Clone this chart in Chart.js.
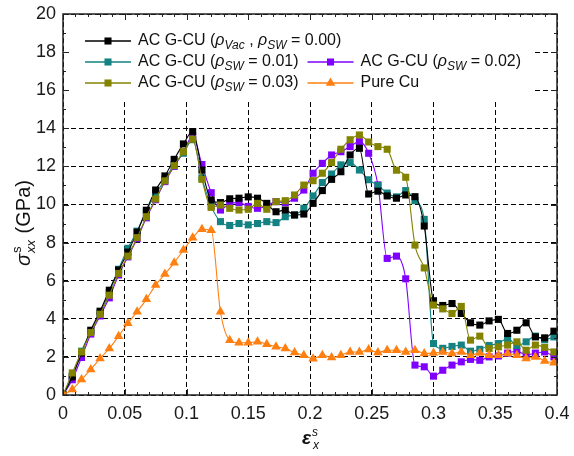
<!DOCTYPE html>
<html>
<head>
<meta charset="utf-8">
<script src="https://cdn.jsdelivr.net/npm/chart.js@4/dist/chart.umd.min.js"></script>
<style>
  html, body { margin: 0; padding: 0; background: #fff; }
  #wrap { width: 574px; height: 456px; }
</style>
</head>
<body>
<div id="wrap"><canvas id="chart" width="574" height="456"></canvas></div>
<script>
// strain values (x axis)
const strain = [0, 0.0075, 0.015, 0.0225, 0.03, 0.0375, 0.045, 0.0525, 0.06, 0.0675,
  0.075, 0.0825, 0.09, 0.0975, 0.105, 0.1125, 0.12, 0.1275, 0.135, 0.1425,
  0.15, 0.1575, 0.165, 0.1725, 0.18, 0.1875, 0.195, 0.2025, 0.21, 0.2175,
  0.225, 0.2325, 0.24, 0.2475, 0.255, 0.2625, 0.27, 0.2775, 0.285, 0.2925,
  0.3, 0.3075, 0.315, 0.3225, 0.33, 0.3375, 0.345, 0.3525, 0.36, 0.3675,
  0.375, 0.3825, 0.39, 0.3975];

// stress (GPa) per sample
const acSw000 = [0, 0.95, 2.2, 3.4, 4.4, 5.5, 6.56, 7.5, 8.55, 9.7,
  10.76, 11.5, 12.37, 13.18, 13.83, 11.81, 10.24, 10.1, 10.3, 10.33,
  10.4, 10.33, 10.06, 9.62, 9.71, 9.45, 9.5, 10.06, 10.73, 11.32,
  11.72, 12.6, 12.95, 10.55, 10.7, 10.45, 10.33, 10.5, 10.41, 8.87,
  4.95, 4.7, 4.8, 4.28, 3.79, 3.67, 3.89, 3.97, 3.23, 3.4,
  3.79, 3.05, 3.0, 3.35];
const acSw001 = [0, 1.0, 2.3, 3.35, 4.3, 5.4, 6.6, 7.7, 8.6, 9.67,
  10.55, 11.3, 12.1, 12.69, 13.4, 11.4, 9.9, 9.1, 8.9, 9.0,
  8.93, 9.0, 9.1, 9.05, 9.36, 9.45, 9.8, 10.45, 11.15, 11.6,
  12.08, 12.2, 11.81, 11.3, 11.0, 10.6, 10.4, 10.73, 10.2, 9.22,
  2.7, 2.45, 2.55, 2.62, 2.3, 2.4, 2.6, 2.7, 2.97, 2.6,
  2.79, 3.09, 2.9, 3.05];
const acSw002 = [0, 0.8, 1.97, 3.2, 4.15, 5.1, 6.3, 7.25, 8.2, 9.3,
  10.25, 11.2, 12.0, 12.75, 13.6, 12.1, 10.62, 9.71, 10.06, 10.1,
  9.9, 9.8, 9.92, 10.15, 10.1, 10.33, 10.76, 11.64, 12.16, 12.6,
  12.77, 13.04, 13.3, 12.69, 11.03, 7.17, 7.29, 6.1, 1.57, 1.48,
  0.99, 1.3, 1.57, 1.74, 1.87, 1.82, 2.0, 2.05, 2.2, 2.3,
  2.1, 2.2, 2.26, 2.0];
const acSw003 = [0, 1.16, 2.26, 3.28, 4.24, 5.24, 6.38, 7.29, 8.26, 9.36,
  10.29, 11.24, 12.04, 12.77, 13.43, 11.32, 9.85, 9.97, 9.8, 9.71,
  9.75, 10.06, 9.75, 10.15, 10.2, 10.5, 11.02, 11.25, 11.64, 12.2,
  12.9, 13.4, 13.65, 13.28, 13.04, 12.9, 11.8, 11.43, 7.87, 6.67,
  4.72, 4.52, 4.28, 4.65, 2.88, 3.09, 2.44, 2.53, 2.62, 2.79,
  2.35, 2.62, 2.5, 2.26];
const pureCu = [0, 0.29, 0.81, 1.34, 1.92, 2.44, 3.09, 3.76, 4.37, 5.02,
  5.77, 6.35, 6.94, 7.61, 8.25, 8.7, 8.65, 4.37, 2.88, 2.74,
  2.74, 2.79, 2.67, 2.53, 2.44, 2.23, 2.09, 1.9, 2.09, 1.97,
  2.09, 2.26, 2.26, 2.39, 2.23, 2.35, 2.35, 2.26, 2.35, 2.18,
  2.2, 2.26, 2.18, 2.26, 2.09, 2.2, 2.09, 2.09, 2.18, 2.09,
  1.92, 2.0, 1.79, 1.69];

const seriesNames = ['AC G-CU (ρVac , ρSW = 0.00)', 'AC G-CU (ρSW = 0.01)', 'AC G-CU (ρSW = 0.02)',
  'AC G-CU (ρSW = 0.03)', 'Pure Cu'];
const seriesColors = ['#000000', '#138282', '#8000ff', '#838300', '#ff7f10'];

// legend text pieces: [text, kind]  kind: n normal, i italic, s subscript
const legendParts = [
  [['AC G-CU (', 'n'], ['ρ', 'i'], ['Vac', 's'], [' , ', 'n'], ['ρ', 'i'], ['SW', 's'], [' = 0.00)', 'n']],
  [['AC G-CU (', 'n'], ['ρ', 'i'], ['SW', 's'], [' = 0.01)', 'n']],
  [['AC G-CU (', 'n'], ['ρ', 'i'], ['SW', 's'], [' = 0.02)', 'n']],
  [['AC G-CU (', 'n'], ['ρ', 'i'], ['SW', 's'], [' = 0.03)', 'n']],
  [['Pure Cu', 'n']]
];
const legendRows = [[0], [1, 2], [3, 4]];

const FONT = '"Liberation Sans", Arial, sans-serif';

function makeSet(i, values, style, radius, order) {
  return {
    label: seriesNames[i],
    data: values.map((v, k) => ({ x: strain[k], y: v })),
    borderColor: seriesColors[i],
    backgroundColor: seriesColors[i],
    pointBackgroundColor: seriesColors[i],
    pointBorderColor: seriesColors[i],
    pointStyle: style,
    pointRadius: radius,
    pointBorderWidth: 0,
    borderWidth: 1.1,
    cubicInterpolationMode: 'monotone',
    order: order
  };
}

function drawRich(ctx, parts, x, y, size) {
  let cx = x;
  for (const [t, kind] of parts) {
    if (kind === 's') {
      ctx.font = `italic ${Math.round(size * 0.72)}px ${FONT}`;
      ctx.fillText(t, cx, y + size * 0.28);
    } else {
      ctx.font = (kind === 'i' ? 'italic ' : '') + `${size}px ${FONT}`;
      ctx.fillText(t, cx, y);
    }
    cx += ctx.measureText(t).width;
  }
  return cx - x;
}

const decor = {
  id: 'decor',
  beforeDatasetsDraw(chart) {
    const ctx = chart.ctx;
    const a = chart.chartArea;
    ctx.save();
    ctx.fillStyle = '#fff';
    ctx.fillRect(a.left + 1, a.top + 1, 533 - a.left, 100 - a.top);
    ctx.restore();
  },
  afterDraw(chart) {
    const ctx = chart.ctx;
    const a = chart.chartArea;
    const xs = chart.scales.x, ys = chart.scales.y;
    ctx.save();

    // inward ticks on all four sides
    ctx.strokeStyle = '#222';
    ctx.lineWidth = 1;
    ctx.beginPath();
    for (let k = 0; k <= 40; k++) {
      const px = Math.round(xs.getPixelForValue(k * 0.01)) + 0.5;
      const len = k % 5 === 0 ? 6 : 3;
      ctx.moveTo(px, a.bottom); ctx.lineTo(px, a.bottom - len);
      ctx.moveTo(px, a.top); ctx.lineTo(px, a.top + len);
    }
    for (let k = 0; k <= 20; k++) {
      const py = Math.round(ys.getPixelForValue(k)) + 0.5;
      const len = k % 2 === 0 ? 6 : 3;
      ctx.moveTo(a.left, py); ctx.lineTo(a.left + len, py);
      ctx.moveTo(a.right, py); ctx.lineTo(a.right - len, py);
    }
    ctx.stroke();

    // frame
    ctx.lineWidth = 1.5;
    ctx.strokeStyle = '#222';
    ctx.strokeRect(a.left, a.top, a.right - a.left, a.bottom - a.top);

    // legend
    ctx.textBaseline = 'middle';
    ctx.fillStyle = '#111';
    const rowY = [41, 62, 83];
    legendRows.forEach((row, r) => {
      let x = 85;
      row.forEach((idx) => {
        const ds = chart.data.datasets[idx];
        const y = rowY[r];
        ctx.strokeStyle = ds.borderColor;
        ctx.lineWidth = 1.3;
        ctx.beginPath();
        ctx.moveTo(x, y); ctx.lineTo(x + 46, y);
        ctx.stroke();
        ctx.fillStyle = ds.backgroundColor;
        Chart.helpers.drawPoint(ctx, { pointStyle: ds.pointStyle, radius: ds.pointRadius, rotation: 0, borderWidth: 0 }, x + 23, y);
        ctx.fillStyle = '#111';
        const w = drawRich(ctx, legendParts[idx], x + 53, y, 16);
        x = x + 53 + w + 9;
      });
    });

    // x axis title: epsilon^s_x
    ctx.fillStyle = '#111';
    ctx.textBaseline = 'alphabetic';
    ctx.font = `italic bold 19px ${FONT}`;
    let tx = 302;
    ctx.fillText('ε', tx, 444);
    tx += ctx.measureText('ε').width + 1;
    ctx.font = `italic 12px ${FONT}`;
    ctx.fillText('s', tx, 436);
    ctx.fillText('x', tx + 1, 449);

    // y axis title: sigma^s_xx (GPa)
    ctx.translate(30, 266);
    ctx.rotate(-Math.PI / 2);
    ctx.font = `italic 20px ${FONT}`;
    let ty = 0;
    ctx.fillText('σ', ty, 0);
    ty += ctx.measureText('σ').width + 1;
    ctx.font = `13px ${FONT}`;
    ctx.fillText('s', ty, -9);
    ctx.font = `italic 13px ${FONT}`;
    ctx.fillText('xx', ty, 5);
    ty += ctx.measureText('xx').width + 1;
    ctx.font = `20px ${FONT}`;
    ctx.fillText(' (GPa)', ty, 0);

    ctx.restore();
  }
};

new Chart(document.getElementById('chart'), {
  type: 'line',
  data: {
    datasets: [
      makeSet(0, acSw000, 'rect', 5, 2),
      makeSet(1, acSw001, 'rect', 5, 3),
      makeSet(2, acSw002, 'rect', 5, 4),
      makeSet(3, acSw003, 'rect', 5, 1),
      makeSet(4, pureCu, 'triangle', 5.5, 0)
    ]
  },
  options: {
    responsive: false,
    animation: false,
    devicePixelRatio: 1,
    layout: { padding: { top: 14, right: 17, left: 0, bottom: 0 } },
    plugins: { legend: { display: false }, tooltip: { enabled: false } },
    scales: {
      x: {
        type: 'linear',
        min: 0,
        max: 0.4,
        afterFit: (s) => { s.height = 61; s.paddingLeft = 0; s.paddingRight = 0; },
        ticks: {
          stepSize: 0.05,
          padding: 8,
          color: '#1a1a1a',
          font: { family: FONT, size: 18 },
          callback: (v) => String(+v.toFixed(2))
        },
        grid: { color: '#000', lineWidth: 1, drawTicks: false },
        border: { display: false, dash: [5, 3] }
      },
      y: {
        min: 0,
        max: 20,
        afterFit: (s) => { s.width = 63; s.paddingTop = 0; s.paddingBottom = 0; },
        ticks: {
          stepSize: 2,
          padding: 7,
          color: '#1a1a1a',
          font: { family: FONT, size: 18 }
        },
        grid: { color: '#000', lineWidth: 1, drawTicks: false },
        border: { display: false, dash: [5, 3] }
      }
    }
  },
  plugins: [decor]
});
</script>
</body>
</html>
